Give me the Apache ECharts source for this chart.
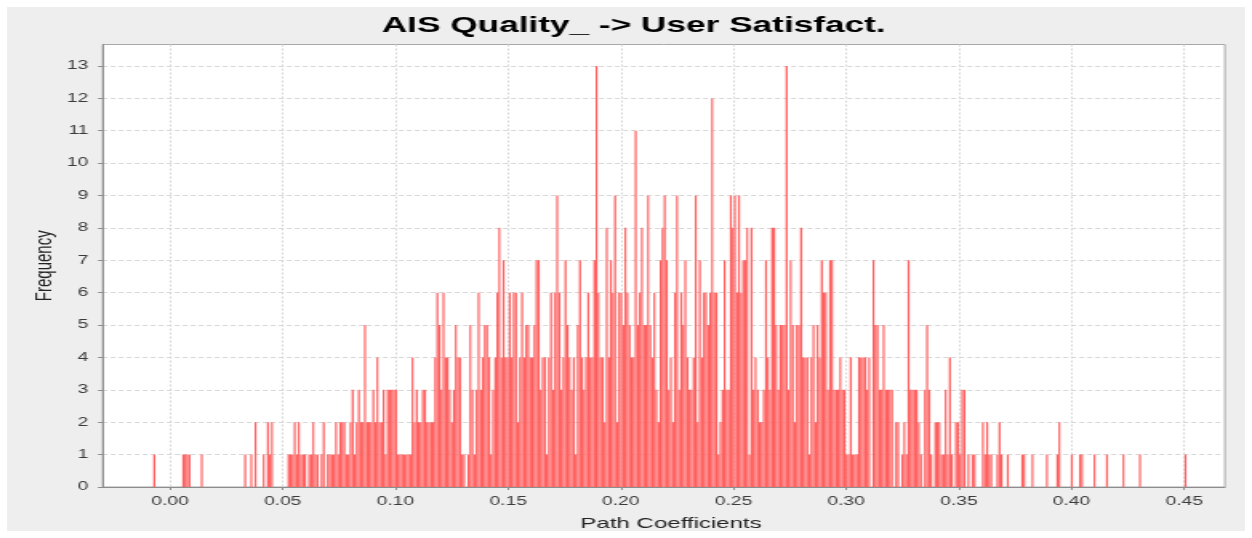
<!DOCTYPE html>
<html>
<head>
<meta charset="utf-8">
<script src="https://cdn.jsdelivr.net/npm/echarts@6/dist/echarts.min.js"></script>
<style>
  html, body { margin: 0; padding: 0; background: #ffffff; width: 1252px; height: 538px; overflow: hidden; }
  #panel { position: absolute; left: 7px; top: 7px; width: 1238px; height: 524px; background: #eeeeee; }
  /* the chart is laid out narrow and widened horizontally */
  #chart { position: absolute; left: 0; top: 0; width: 782px; height: 538px; transform: scaleX(1.601); transform-origin: 0 0; }
</style>
</head>
<body>
<div id="panel"></div>
<div id="chart"></div>
<script>
const TITLE = 'AIS Quality_ -> User Satisfact.';
const X_NAME = 'Path Coefficients';
const Y_NAME = 'Frequency';

// histogram bins: lower edge of the first bin and common bin width
const BIN_START = -0.00743;
const BIN_WIDTH = 0.000917;

// frequency per bin, 20 bins per row
const COUNTS = [
  1,0,0,0,0,0,0,0,0,0,0,0,0,0,1,1,1,1,0,0,
  0,0,0,1,0,0,0,0,0,0,0,0,0,0,0,0,0,0,0,0,
  0,0,0,0,1,0,0,1,0,2,0,0,0,1,0,2,1,2,0,0,
  0,0,0,0,0,1,1,1,2,1,2,1,1,1,0,1,1,2,1,1,
  0,1,2,0,1,1,1,1,2,1,2,2,2,1,1,2,3,1,2,3,
  2,2,5,2,2,2,3,2,4,2,2,3,1,3,3,3,3,3,1,1,
  1,1,1,1,1,4,2,3,2,2,3,3,2,2,2,2,4,6,5,3,
  6,4,4,3,2,3,5,4,4,1,1,0,1,5,3,1,3,6,3,4,
  5,5,4,1,3,4,6,8,4,7,4,4,6,4,6,6,2,4,6,4,
  5,5,4,4,5,7,7,3,4,4,1,4,6,3,6,9,6,3,4,7,
  5,4,3,4,1,5,7,4,3,4,6,4,4,7,13,6,4,4,2,8,
  4,7,6,9,2,6,6,5,8,6,5,4,4,11,5,6,8,5,5,9,
  5,4,6,3,2,7,8,9,7,3,4,2,6,9,3,6,5,7,4,3,
  3,4,9,2,7,4,6,6,5,6,12,6,6,1,2,3,7,3,3,9,
  8,9,6,9,6,7,7,8,1,8,3,4,3,2,2,3,7,4,3,8,
  8,5,3,5,5,5,13,3,7,5,2,5,5,8,4,4,4,1,4,5,
  2,5,4,7,6,6,3,7,7,3,3,3,4,3,3,1,1,4,1,1,
  1,4,4,4,4,3,4,0,7,5,5,3,3,5,3,3,3,3,0,2,
  2,0,1,2,1,7,3,3,3,3,2,1,0,3,5,3,1,0,2,2,
  2,1,1,3,1,4,1,0,2,2,1,3,3,0,1,0,1,1,0,0,
  0,2,1,2,1,1,0,0,1,2,1,0,0,1,0,0,0,0,0,0,
  1,1,0,0,0,1,0,0,0,0,0,0,1,0,0,0,0,1,2,0,
  0,0,0,0,1,0,0,0,1,1,0,0,0,0,0,1,0,0,0,0,
  0,1,0,0,0,0,0,0,0,1,0,0,0,0,0,0,0,1,0,0,
  0,0,0,0,0,0,0,0,0,0,0,0,0,0,0,0,0,0,0,1
];

const X_TICKS = [0.00, 0.05, 0.10, 0.15, 0.20, 0.25, 0.30, 0.35, 0.40, 0.45];
const Y_TICKS = [0, 1, 2, 3, 4, 5, 6, 7, 8, 9, 10, 11, 12, 13];

const X_MIN = -0.02986, X_MAX = 0.46807;
const Y_MAX = 13.66;

const bins = [];
COUNTS.forEach((c, i) => {
  if (c > 0) bins.push([BIN_START + i * BIN_WIDTH, BIN_START + (i + 1) * BIN_WIDTH, c]);
});

const FONT = "'Liberation Sans', Arial, sans-serif";
const AXIS_GREY = '#8c8c8c';

// each bar is shaded from a strong red on its left edge to a pale red on its right edge
const barFill = new echarts.graphic.LinearGradient(0, 0, 1, 0, [
  { offset: 0, color: 'rgb(255,78,78)' },
  { offset: 0.6, color: 'rgb(255,100,100)' },
  { offset: 1, color: 'rgb(255,160,160)' }
]);

const chart = echarts.init(document.getElementById('chart'), null, { renderer: 'canvas' });
chart.setOption({
  animation: false,
  backgroundColor: 'transparent',
  title: {
    text: TITLE,
    left: 390.8, top: 10,
    textAlign: 'center',
    textStyle: { fontFamily: FONT, fontWeight: 'bold', fontSize: 22, color: '#000000' }
  },
  grid: {
    left: 64.2, right: 16.9, top: 44.5, bottom: 51,
    show: true, backgroundColor: '#ffffff', borderColor: '#a8a8a8', borderWidth: 1
  },
  xAxis: {
    type: 'value', min: X_MIN, max: X_MAX,
    name: X_NAME, nameLocation: 'middle', nameGap: 29, nameMoveOverlap: false,
    nameTextStyle: { fontFamily: FONT, fontSize: 15, color: '#222222', padding: [0, 0, 0, 9] },
    axisLine: { show: true, onZero: false, lineStyle: { color: AXIS_GREY } },
    axisTick: { show: true, length: 3, customValues: X_TICKS, lineStyle: { color: AXIS_GREY } },
    axisLabel: {
      customValues: X_TICKS, margin: 9, hideOverlap: false,
      formatter: v => v.toFixed(2),
      fontFamily: FONT, fontSize: 12, color: '#3a3a3a'
    },
    splitLine: { show: true, lineStyle: { color: '#d6d6d6', width: 1, type: [2, 2] } }
  },
  yAxis: {
    type: 'value', min: 0, max: Y_MAX,
    name: Y_NAME, nameLocation: 'middle', nameGap: 28.6, nameRotate: 90, nameMoveOverlap: false,
    nameTextStyle: { fontFamily: FONT, fontSize: 15, color: '#222222' },
    axisLine: { show: true, onZero: false, lineStyle: { color: AXIS_GREY } },
    axisTick: { show: true, length: 3, customValues: Y_TICKS, lineStyle: { color: AXIS_GREY } },
    axisLabel: {
      customValues: Y_TICKS, margin: 9, hideOverlap: false,
      fontFamily: FONT, fontSize: 12, color: '#3a3a3a'
    },
    splitLine: { show: true, lineStyle: { color: '#d6d6d6', width: 1, type: [3, 2] } }
  },
  series: [{
    type: 'custom',
    data: bins,
    encode: { x: [0, 1], y: 2 },
    renderItem: function (params, api) {
      const top = api.coord([api.value(0), api.value(2)]);
      const base = api.coord([api.value(1), 0]);
      return {
        type: 'rect',
        shape: { x: top[0], y: top[1], width: base[0] - top[0], height: base[1] - top[1] },
        style: { fill: barFill }
      };
    }
  }]
});
</script>
</body>
</html>
